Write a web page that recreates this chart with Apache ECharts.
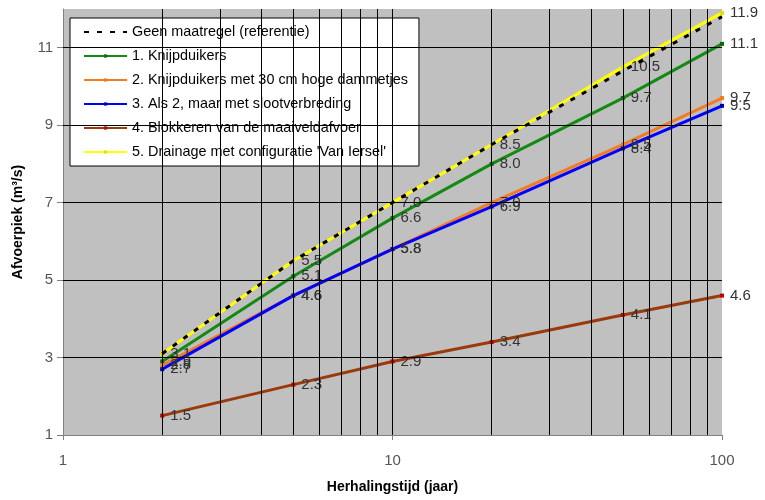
<!DOCTYPE html>
<html>
<head>
<meta charset="utf-8">
<script src="https://cdn.jsdelivr.net/npm/echarts@6/dist/echarts.min.js"></script>
<style>
  html, body { margin: 0; padding: 0; background: #fff; }
  #chart { width: 765px; height: 500px; }
</style>
</head>
<body>
<div id="chart"></div>
<script>
// Return periods (years) on the logarithmic x axis
const herhalingstijd = [2, 5, 10, 20, 50, 100];

// Peak discharge (m3/s) per scenario
const geenMaatregel   = [3.1, 5.5, 7.0, 8.5, 10.4, 11.8];
const knijpduikers    = [2.9, 5.1, 6.6, 8.0, 9.7, 11.1];
const metDammetjes    = [2.8, 4.6, 5.8, 7.0, 8.5, 9.7];
const slootverbreding = [2.7, 4.6, 5.8, 6.9, 8.4, 9.5];
const blokkeren       = [1.5, 2.3, 2.9, 3.4, 4.1, 4.6];
const drainage        = [3.1, 5.5, 7.0, 8.5, 10.5, 11.9];

const seriesNames = [
  'Geen maatregel (referentie)',
  '1. Knijpduikers',
  '2. Knijpduikers met 30 cm hoge dammetjes',
  '3. Als 2, maar met slootverbreding',
  '4. Blokkeren van de maaiveldafvoer',
  "5. Drainage met configuratie 'Van Iersel'"
];

// Axis ticks and grid positions
const yTicks = [1, 3, 5, 7, 9, 11];
const yGrid = [3, 5, 7, 9, 11];
const xGrid = [2, 3, 4, 5, 6, 7, 8, 9, 10, 20, 30, 40, 50, 60, 70, 80, 90];

const FONT = 'Liberation Sans, Arial, sans-serif';

function pairs(vals) {
  return herhalingstijd.map((x, i) => [x, vals[i]]);
}

function lineSeries(name, vals, color, opts) {
  opts = opts || {};
  return {
    name: name,
    type: 'line',
    data: pairs(vals),
    z: opts.z || 3,
    symbol: opts.symbol || 'rect',
    symbolSize: opts.symbolSize == null ? 4 : opts.symbolSize,
    showSymbol: true,
    itemStyle: { color: opts.markerColor || color, borderWidth: 0 },
    lineStyle: { color: color, width: 3, type: opts.dash || 'solid' },
    label: {
      show: true,
      position: 'right',
      distance: 6,
      color: '#333',
      fontFamily: FONT,
      fontSize: 15,
      formatter: p => p.value[1].toFixed(1)
    },
    emphasis: { disabled: true },
    animation: false
  };
}

const legendItems = seriesNames.map((n, i) =>
  i === 0 ? { name: n, itemStyle: { opacity: 0 } } : { name: n }
);

const chart = echarts.init(document.getElementById('chart'), null, { renderer: 'canvas' });

chart.setOption({
  animation: false,
  textStyle: { fontFamily: FONT },
  grid: {
    left: 63, right: 43, top: 9, bottom: 65,
    show: true,
    backgroundColor: '#c0c0c0',
    borderWidth: 0
  },
  legend: {
    orient: 'vertical',
    left: 70,
    top: 18,
    data: legendItems,
    backgroundColor: '#fff',
    borderColor: '#000',
    borderWidth: 1,
    padding: [7, 11, 7, 13],
    itemWidth: 43,
    itemHeight: 4,
    itemGap: 10,
    selectedMode: false,
    textStyle: { fontFamily: FONT, fontSize: 14.4, color: '#000', lineHeight: 14 }
  },
  xAxis: {
    type: 'log',
    logBase: 10,
    min: 1,
    max: 100,
    name: 'Herhalingstijd (jaar)',
    nameLocation: 'middle',
    nameGap: 45,
    nameTextStyle: { fontFamily: FONT, fontSize: 14, fontWeight: 'bold', color: '#000' },
    axisLine: { show: true, lineStyle: { color: '#808080', width: 1 } },
    axisTick: { show: true, length: 5, lineStyle: { color: '#808080' } },
    axisLabel: { fontFamily: FONT, fontSize: 15, color: '#555', margin: 18 },
    splitLine: { show: false }
  },
  yAxis: {
    type: 'value',
    min: 1,
    max: 12,
    name: 'Afvoerpiek (m³/s)',
    nameLocation: 'middle',
    nameGap: 38,
    nameTextStyle: { fontFamily: FONT, fontSize: 14, fontWeight: 'bold', color: '#000' },
    axisLine: { show: true, lineStyle: { color: '#808080', width: 1 } },
    axisTick: { show: true, length: 6, customValues: yTicks, lineStyle: { color: '#808080' } },
    axisLabel: { fontFamily: FONT, fontSize: 15, color: '#555', margin: 10, customValues: yTicks },
    splitLine: { show: false }
  },
  series: [
    // Grid lines of the plot area
    {
      type: 'line',
      data: [],
      z: 1,
      silent: true,
      markLine: {
        silent: true,
        symbol: 'none',
        animation: false,
        label: { show: false },
        emphasis: { disabled: true },
        lineStyle: { color: '#000', width: 1, type: 'solid' },
        data: xGrid.map(v => ({ xAxis: v })).concat(yGrid.map(v => ({ yAxis: v })))
      }
    },
    lineSeries(seriesNames[1], knijpduikers, '#138a13', { markerColor: '#0b6b0b' }),
    lineSeries(seriesNames[2], metDammetjes, '#f47b20'),
    lineSeries(seriesNames[3], slootverbreding, '#0000ff', { markerColor: '#0000b0' }),
    lineSeries(seriesNames[4], blokkeren, '#9a3a0a', { markerColor: '#c00000' }),
    lineSeries(seriesNames[5], drainage, '#ffff00', { markerColor: '#e0e000' }),
    lineSeries(seriesNames[0], geenMaatregel, '#000', { dash: [5, 8], z: 4, symbolSize: 0, symbol: 'none' })
  ]
});
</script>
</body>
</html>
